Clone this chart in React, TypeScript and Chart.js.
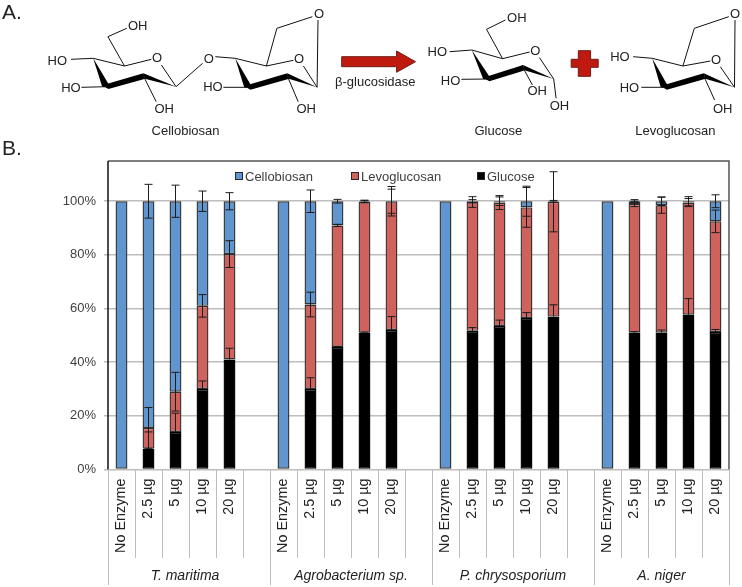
import React, { useEffect, useRef } from "react";
import { Chart, registerables } from "chart.js";

Chart.register(...registerables);

const doses = ["No Enzyme", "2.5 µg", "5 µg", "10 µg", "20 µg"];
const categories = [...doses, "", ...doses, "", ...doses, "", ...doses];
const organisms = ["T. maritima", "Agrobacterium sp.", "P. chrysosporium", "A. niger"];
const organismStarts = [0, 6, 12, 18];
const organismSpans = [6, 6, 6, 5];
const yTicks = [0, 20, 40, 60, 80, 100];

const glucose = [null, 7.8, 14, 30, 41, null, null, 30, 45.7, 51, 52, null, null, 51.7, 53.5, 56.5, 57, null, null, 51, 51, 57.7, 51.3];
const levoglucosan = [null, 7.7, 15, 31, 39.3, null, null, 31.5, 45.3, 48.8, 48, null, null, 48, 46, 41.2, 42.8, null, null, 48, 47.5, 41.8, 41.2];
const cellobiosan = [100, 84.5, 71, 39, 19.7, null, 100, 38.5, 9, 0.2, 0, null, 100, 0.3, 0.5, 2.3, 0.2, null, 100, 1, 1.5, 0.5, 7.5];

const glucoseErr = [0, 6.2, 7, 3, 4.2, 0, 0, 4.2, 0.2, 0.2, 5, 0, 0, 1.2, 2.2, 2, 4.4, 0, 0, 0.4, 1, 6, 0.9];
const levoglucosanErr = [0, 7.6, 7.2, 4.2, 5, 0, 0, 4.6, 0.4, 0.4, 5.5, 0, 0, 2, 2.6, 7.4, 11.2, 0, 0, 1, 3, 1.5, 4.2];
const cellobiosanErr = [0, 6.3, 6, 3.8, 3.2, 0, 0, 4.2, 0.7, 0.4, 4.5, 0, 0, 0.6, 1.6, 5.6, 0.3, 0, 0, 0.6, 1.6, 1.7, 2.4];

const BLUE = "#5f96cf";
const RED = "#d0625e";
const BLACK = "#000000";
const EDGE = "#333333";
const GRID = "#bdbdbd";
const TEXT = "#404040";
const SANS = "'Liberation Sans', Arial, sans-serif";

const errorBars = {
  id: "errorBars",
  afterDatasetsDraw(chart: any) {
    const { ctx, scales } = chart;
    const errs = [glucoseErr, levoglucosanErr, cellobiosanErr];
    const series = [glucose, levoglucosan, cellobiosan];
    ctx.save();
    ctx.strokeStyle = "#1c1c1c";
    ctx.lineWidth = 1;
    categories.forEach((_, i) => {
      let cum = 0;
      series.forEach((s, k) => {
        cum += s[i] ?? 0;
        const e = errs[k][i];
        if (!e) return;
        const x = Math.round(scales.x.getPixelForValue(i)) + 0.5;
        const hi = scales.y.getPixelForValue(cum + e);
        // the lower half of a glucose bar is black on black, so only the upper half shows
        const lo = k === 0 ? scales.y.getPixelForValue(cum) : scales.y.getPixelForValue(cum - e);
        ctx.beginPath();
        ctx.moveTo(x, hi);
        ctx.lineTo(x, lo);
        ctx.moveTo(x - 4, hi);
        ctx.lineTo(x + 4, hi);
        if (k !== 0) {
          ctx.moveTo(x - 4, lo);
          ctx.lineTo(x + 4, lo);
        }
        ctx.stroke();
      });
    });
    ctx.restore();
  },
};

const frameAndAxis = {
  id: "frameAndAxis",
  beforeDatasetsDraw(chart: any) {
    const { ctx, chartArea: a } = chart;
    ctx.save();
    ctx.strokeStyle = "#555555";
    ctx.lineWidth = 1.5;
    ctx.beginPath();
    ctx.moveTo(a.left, a.top);
    ctx.lineTo(a.right, a.top);
    ctx.lineTo(a.right, a.bottom);
    ctx.stroke();
    ctx.strokeStyle = "#111111";
    ctx.beginPath();
    ctx.moveTo(a.left, a.top);
    ctx.lineTo(a.left, a.bottom);
    ctx.stroke();
    ctx.restore();
  },
  afterDraw(chart: any) {
    const { ctx, chartArea: a, scales } = chart;
    const step = (a.right - a.left) / categories.length;
    ctx.save();
    ctx.strokeStyle = GRID;
    ctx.lineWidth = 1;
    for (let i = 0; i <= categories.length; i++) {
      const long = i === categories.length || organismStarts.includes(i);
      const x = Math.round(a.left + i * step) + 0.5;
      ctx.beginPath();
      ctx.moveTo(x, a.bottom);
      ctx.lineTo(x, long ? 585 : 558);
      ctx.stroke();
    }
    ctx.fillStyle = "#222222";
    ctx.font = `italic 14px ${SANS}`;
    ctx.textAlign = "center";
    ctx.textBaseline = "middle";
    organisms.forEach((name, g) => {
      const mid = scales.x.getPixelForValue(organismStarts[g]) - step / 2 + (organismSpans[g] * step) / 2;
      ctx.fillText(name, mid - (g === 0 ? 4 : 0), 576);
    });
    ctx.restore();
  },
};

// Legend sits inside the plot, with the tight marker/text gap of the reference.
const legendOrder = [2, 1, 0];
const legendMarkerX = [235, 351, 477];
const keyInPlot = {
  id: "keyInPlot",
  afterDraw(chart: any) {
    const { ctx } = chart;
    ctx.save();
    ctx.font = `13px ${SANS}`;
    ctx.textBaseline = "middle";
    ctx.textAlign = "left";
    legendOrder.forEach((d, k) => {
      const ds = chart.data.datasets[d];
      ctx.fillStyle = ds.backgroundColor;
      ctx.strokeStyle = "#262626";
      ctx.lineWidth = 1;
      ctx.fillRect(legendMarkerX[k], 172, 7, 7);
      ctx.strokeRect(legendMarkerX[k] + 0.5, 172.5, 7, 7);
      ctx.fillStyle = TEXT;
      ctx.fillText(ds.label, legendMarkerX[k] + 10, 177);
    });
    ctx.restore();
  },
};

const fx = (x: number) => x / 2.113;
const fy = (y: number) => y / 3;
type P = [number, number];
const pts = (list: P[]) => list.map(([x, y]) => `${fx(x).toFixed(1)},${fy(y).toFixed(1)}`).join(" ");

function Bond({ path }: { path: P[] }) {
  return <polyline points={pts(path)} fill="none" stroke="#111" strokeWidth={1} />;
}
function Label({ x, y, t, size = 13, color = "#222" }: { x: number; y: number; t: string; size?: number; color?: string }) {
  return (
    <text x={fx(x)} y={fy(y)} fontSize={size} fill={color} textAnchor="middle" dominantBaseline="central" fontFamily={SANS}>
      {t}
    </text>
  );
}
// a top-left, b ring carbon, o oxygen, d right carbon, e lower right, f lower left
function Ring({ a, b, o, d, e, f }: { a: P; b: P; o: P; d: P; e: P; f: P }) {
  const w = 8;
  return (
    <g>
      <Bond path={[a, b, [o[0] - 12, o[1] + 5]]} />
      <Bond path={[[o[0] + 9, o[1] + 22], d]} />
      <polygon points={pts([a, [f[0] - 9, f[1]], [f[0] + 9, f[1] + 3]])} fill="#000" />
      <polygon points={pts([[f[0] - 9, f[1] - 4], [e[0], e[1] - w], [e[0] + 4, e[1] + w], [f[0] + 4, f[1] + 7]])} fill="#000" />
      <polygon points={pts([[e[0], e[1] - w], d, [e[0] + 3, e[1] + w]])} fill="#000" />
      <Label x={o[0]} y={o[1]} t="O" />
    </g>
  );
}

function Scheme() {
  return (
    <svg width={742} height={160} style={{ position: "absolute", left: 0, top: 0, pointerEvents: "none" }}>
      <text x={2} y={19} fontSize={21} fill="#222" fontFamily={SANS}>A.</text>
      <text x={2} y={155} fontSize={21} fill="#222" fontFamily={SANS}>B.</text>

      <Ring a={[197, 175]} b={[263, 198]} o={[332, 173]} d={[372, 260]} e={[303, 228]} f={[225, 260]} />
      <Bond path={[[263, 198], [228, 110], [268, 85]]} />
      <Label x={291} y={75} t="OH" />
      <Bond path={[[150, 178], [197, 175]]} />
      <Label x={121} y={180} t="HO" />
      <Bond path={[[172, 262], [225, 260]]} />
      <Label x={150} y={262} t="HO" />
      <Bond path={[[303, 228], [330, 305]]} />
      <Label x={347} y={325} t="OH" />
      <Bond path={[[372, 260], [428, 190]]} />
      <Label x={441} y={175} t="O" />
      <Bond path={[[455, 170], [497, 175]]} />

      <Ring a={[497, 175]} b={[563, 198]} o={[632, 176]} d={[670, 262]} e={[607, 228]} f={[525, 262]} />
      <Label x={450} y={260} t="HO" />
      <Bond path={[[472, 262], [525, 262]]} />
      <Bond path={[[607, 228], [630, 305]]} />
      <Label x={647} y={325} t="OH" />
      <Bond path={[[563, 198], [585, 85], [660, 50]]} />
      <Label x={674} y={40} t="O" />
      <Bond path={[[672, 60], [670, 262]]} />

      <polygon
        points={pts([[722, 170], [838, 170], [838, 153], [878, 185], [838, 217], [838, 200], [722, 200]])}
        fill="#c01a10"
        stroke="#6e1b14"
        strokeWidth={1}
      />
      <Label x={793} y={243} t="β-glucosidase" />

      <Ring a={[997, 150]} b={[1062, 176]} o={[1131, 151]} d={[1170, 237]} e={[1105, 203]} f={[1030, 237]} />
      <Bond path={[[1062, 176], [1028, 88], [1068, 60]]} />
      <Label x={1092} y={52} t="OH" />
      <Label x={924} y={155} t="HO" />
      <Bond path={[[950, 155], [997, 150]]} />
      <Label x={952} y={240} t="HO" />
      <Bond path={[[975, 238], [1030, 237]]} />
      <Bond path={[[1105, 203], [1125, 255]]} />
      <Label x={1135} y={270} t="OH" />
      <Bond path={[[1170, 237], [1175, 295]]} />
      <Label x={1182} y={315} t="OH" />

      <polygon
        points={pts([[1222, 152], [1248, 152], [1248, 178], [1264, 178], [1264, 202], [1248, 202], [1248, 229], [1222, 229], [1222, 202], [1207, 202], [1207, 178], [1222, 178]])}
        fill="#c01a10"
        stroke="#6e1b14"
        strokeWidth={1}
      />

      <Ring a={[1378, 175]} b={[1443, 198]} o={[1513, 178]} d={[1552, 262]} e={[1487, 228]} f={[1405, 262]} />
      <Label x={1310} y={168} t="HO" />
      <Bond path={[[1338, 170], [1378, 175]]} />
      <Label x={1330} y={262} t="HO" />
      <Bond path={[[1355, 262], [1405, 262]]} />
      <Bond path={[[1487, 228], [1510, 300]]} />
      <Label x={1527} y={325} t="OH" />
      <Bond path={[[1443, 198], [1467, 85], [1540, 50]]} />
      <Label x={1553} y={40} t="O" />
      <Bond path={[[1553, 60], [1552, 262]]} />

      <Label x={392} y={392} t="Cellobiosan" />
      <Label x={1053} y={392} t="Glucose" />
      <Label x={1427} y={392} t="Levoglucosan" />
    </svg>
  );
}

export default function App() {
  const ref = useRef<HTMLCanvasElement>(null);
  useEffect(() => {
    if (!ref.current) return;
    const bar = { borderColor: EDGE, borderWidth: 1.4, borderSkipped: false, barPercentage: 0.44, categoryPercentage: 1 };
    const chart = new Chart(ref.current, {
      type: "bar",
      data: {
        labels: categories,
        datasets: [
          { label: "Glucose", data: glucose, backgroundColor: BLACK, ...bar, borderColor: BLACK },
          { label: "Levoglucosan", data: levoglucosan, backgroundColor: RED, ...bar },
          { label: "Cellobiosan", data: cellobiosan, backgroundColor: BLUE, ...bar },
        ],
      } as any,
      plugins: [frameAndAxis, errorBars, keyInPlot],
      options: {
        animation: false,
        responsive: false,
        layout: { padding: { left: 0, top: 161, right: 11, bottom: 0 } },
        plugins: {
          title: { display: false },
          tooltip: { enabled: false },
          legend: { display: false },
        },
        scales: {
          x: {
            stacked: true,
            grid: { display: false, drawTicks: false },
            border: { display: false },
            afterFit(s: any) {
              s.height = 117.5;
            },
            ticks: {
              autoSkip: false,
              maxRotation: 90,
              minRotation: 90,
              padding: 9,
              color: "#222222",
              font: { size: 14.4, family: SANS },
            },
          },
          y: {
            stacked: true,
            min: 0,
            max: 115,
            afterFit(s: any) {
              s.width = 108;
            },
            afterBuildTicks(s: any) {
              s.ticks = yTicks.map((value) => ({ value }));
            },
            grid: { color: GRID, lineWidth: 1.5, tickLength: 4 },
            border: { display: false },
            ticks: {
              padding: 8,
              color: TEXT,
              font: { size: 13, family: SANS },
              callback: (v: any) => `${v}%`,
            },
          },
        },
      },
    } as any);
    return () => chart.destroy();
  }, []);
  return (
    <div style={{ position: "absolute", left: 0, top: 0, width: 742, height: 587, background: "#fff" }}>
      <canvas ref={ref} width={742} height={587} style={{ position: "absolute", left: 0, top: 0, width: 742, height: 587 }} />
      <Scheme />
    </div>
  );
}
